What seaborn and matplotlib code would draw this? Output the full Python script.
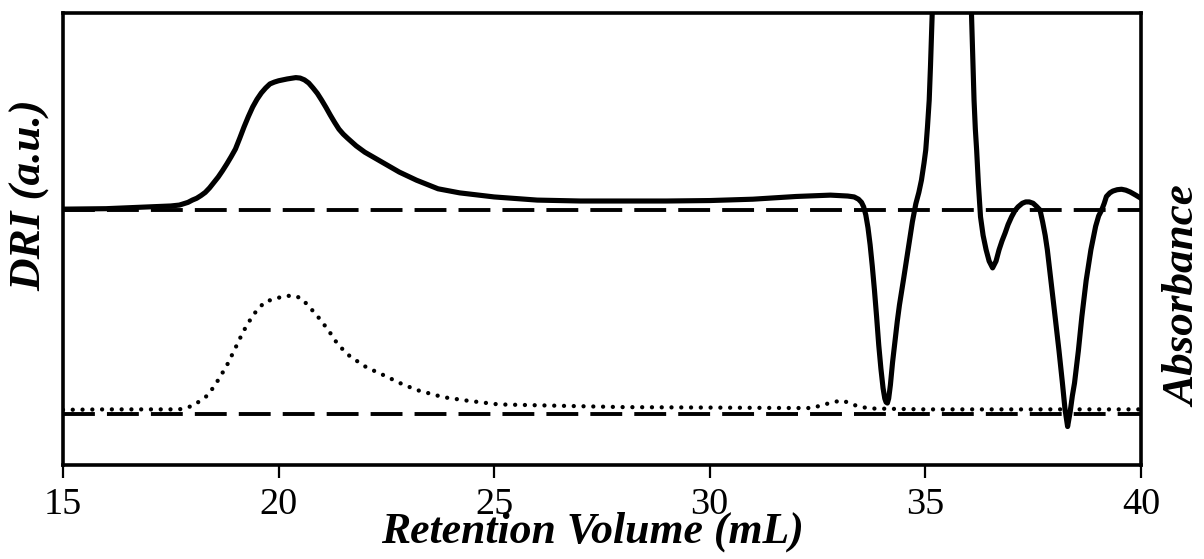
import numpy as np
import pandas as pd
import matplotlib
matplotlib.use("Agg")
import matplotlib.pyplot as plt
import seaborn as sns

# Retention volume (mL) and DRI response relative to its own baseline (a.u.)
dri_volume = [15.0, 16.0, 17.0, 17.5, 17.7, 17.9, 18.0, 18.1, 18.2, 18.3,
              18.4, 18.5, 18.6, 18.7, 18.8, 18.9, 19.0, 19.1, 19.2, 19.3,
              19.4, 19.5, 19.6, 19.7, 19.8, 19.9, 20.0, 20.2, 20.4, 20.5,
              20.6, 20.7, 20.8, 20.9, 21.0, 21.1, 21.2, 21.3, 21.4, 21.5,
              21.6, 21.8, 22.0, 22.4, 22.8, 23.2, 23.7, 24.2, 25.0, 26.0,
              27.0, 28.0, 29.0, 30.0, 31.0, 32.0, 32.8, 33.2, 33.35, 33.45,
              33.52, 33.57, 33.62, 33.67, 33.72, 33.77, 33.82, 33.87, 33.92, 33.97,
              34.02, 34.06, 34.09, 34.12, 34.15, 34.19, 34.24, 34.3, 34.35, 34.4,
              34.5, 34.6, 34.7, 34.78, 34.85, 34.91, 34.97, 35.01, 35.05, 35.09,
              35.12, 35.16, 35.2, 35.25, 35.3, 35.4, 35.5, 35.6, 35.7, 35.8,
              35.9, 35.97, 36.02, 36.07, 36.13, 36.16, 36.19, 36.23, 36.28, 36.34,
              36.41, 36.48, 36.56, 36.64, 36.71, 36.78, 36.85, 36.92, 37.0, 37.08,
              37.15, 37.25, 37.33, 37.41, 37.5, 37.58, 37.66, 37.72, 37.78, 37.83,
              37.92, 38.01, 38.1, 38.18, 38.24, 38.3, 38.36, 38.41, 38.46, 38.55,
              38.63, 38.73, 38.84, 38.95, 39.02, 39.09, 39.15, 39.2, 39.28, 39.35,
              39.45, 39.55, 39.65, 39.75, 39.88, 40.0]
dri_signal = [0.3, 0.4, 0.8, 1.0, 1.2, 1.8, 2.3, 2.7, 3.3, 4.0,
              5.0, 6.2, 7.4, 8.8, 10.3, 11.9, 13.6, 16.0, 18.5, 20.8,
              22.9, 24.6, 26.0, 27.1, 28.0, 28.4, 28.7, 29.1, 29.4, 29.3,
              28.9, 28.2, 27.1, 25.9, 24.4, 22.8, 21.1, 19.5, 18.0, 16.9,
              16.0, 14.3, 12.9, 10.7, 8.5, 6.7, 4.8, 3.9, 3.0, 2.3,
              2.1, 2.1, 2.1, 2.2, 2.5, 3.1, 3.4, 3.2, 3.0, 2.5,
              1.8, 0.8, -1.0, -3.8, -7.6, -12.3, -17.6, -23.5, -29.8, -35.0,
              -39.3, -41.6, -42.4, -42.6, -41.6, -38.6, -33.6, -28.6, -24.5, -20.9,
              -14.9, -8.7, -2.5, 1.5, 4.0, 6.7, 10.5, 13.4, 18.5, 24.4,
              32.0, 43.7, 53.0, 63.0, 71.0, 83.0, 90.0, 93.5, 93.0, 88.0,
              78.0, 66.0, 55.0, 43.7, 24.4, 18.0, 13.4, 6.0, -1.4, -5.5,
              -8.7, -11.2, -12.7, -11.2, -8.7, -6.7, -5.0, -3.1, -1.4, 0.0,
              0.8, 1.6, 1.9, 1.9, 1.6, 0.9, 0.1, -2.5, -5.5, -8.7,
              -16.0, -23.5, -31.0, -38.2, -44.0, -47.8, -44.5, -41.0, -38.2, -31.0,
              -23.5, -15.5, -8.7, -3.5, -1.2, 0.1, 1.6, 3.1, 3.9, 4.3,
              4.6, 4.7, 4.5, 4.1, 3.4, 2.7]

# Retention volume (mL) and absorbance relative to its own baseline (a.u.)
abs_volume = [15.0, 16.0, 17.0, 17.7, 18.02, 18.37, 18.6, 18.8, 18.99, 19.18,
              19.41, 19.68, 20.11, 20.33, 20.53, 20.88, 21.15, 21.38, 21.66, 22.04,
              22.43, 22.82, 23.2, 23.82, 24.4, 25.1, 26.5, 28.0, 30.0, 32.0,
              32.4, 32.6, 32.8, 33.05, 33.25, 33.4, 33.7, 35.0, 37.0, 40.0]
abs_signal = [0.9, 1.0, 1.0, 1.0, 1.8, 4.2, 7.5, 10.7, 14.4, 18.2,
              21.9, 24.8, 26.0, 26.2, 25.6, 21.9, 18.6, 15.3, 12.7, 10.3,
              8.6, 6.8, 5.3, 3.7, 2.9, 2.1, 1.8, 1.5, 1.4, 1.3,
              1.3, 2.0, 2.4, 3.0, 2.4, 1.8, 1.2, 1.0, 1.0, 1.0]

# Vertical stacking of the two traces
DRI_OFFSET = 56.3
ABS_OFFSET = 11.3

x_ticks = [15, 20, 25, 30, 35, 40]

dri = pd.DataFrame({"volume": dri_volume,
                    "response": np.array(dri_signal) + DRI_OFFSET})
absorb = pd.DataFrame({"volume": abs_volume,
                       "response": np.array(abs_signal) + ABS_OFFSET})

sns.set_theme(style="white")
plt.rcParams["font.family"] = ["Liberation Serif", "DejaVu Serif"]

fig = plt.figure(figsize=(12.04, 5.59), dpi=100)
ax = fig.add_axes([0.0523, 0.1682, 0.8953, 0.8086])

# Baselines
ax.axhline(DRI_OFFSET, color="black", lw=2.8, linestyle=(0, (8.2, 3.1)), zorder=1)
ax.axhline(ABS_OFFSET, color="black", lw=2.8, linestyle=(0, (8.2, 3.1)), zorder=1)

# Traces
sns.lineplot(data=dri, x="volume", y="response", ax=ax, color="black",
             lw=3.7, estimator=None, sort=False, zorder=3)
sns.lineplot(data=absorb, x="volume", y="response", ax=ax, color="black",
             lw=3.1, estimator=None, sort=False, zorder=2)
dot_line = ax.lines[-1]
dot_line.set_linestyle((0, (0.01, 2.26)))
dot_line.set_dash_capstyle("round")
solid_line = ax.lines[-2]
solid_line.set_solid_capstyle("round")
solid_line.set_solid_joinstyle("round")

ax.set_xlim(15, 40)
ax.set_ylim(0, 100)
ax.set_xticks(x_ticks)
ax.set_xticklabels([str(t) for t in x_ticks])
ax.set_yticks([])
ax.set_ylabel("")
ax.tick_params(axis="x", direction="out", length=9, width=1.6, color="black",
               bottom=True, labelsize=27.5, pad=7, labelcolor="black")

for side in ["left", "right", "top", "bottom"]:
    ax.spines[side].set_visible(True)
    ax.spines[side].set_color("black")
    ax.spines[side].set_linewidth(2.6)

ax.set_xlabel("Retention Volume (mL)", fontsize=31.5, fontweight="bold",
              fontstyle="italic", color="black")
ax.xaxis.set_label_coords(0.4917, -0.102)

fig.text(0.025, 0.651, "DRI (a.u.)", rotation=90, ha="center", va="center",
         fontsize=32.5, fontweight="bold", fontstyle="italic", color="black")
fig.text(0.984, 0.47, "Absorbance", rotation=90, ha="center", va="center",
         fontsize=32.5, fontweight="bold", fontstyle="italic", color="black")

fig.savefig("out.png", dpi=100, facecolor="white")
